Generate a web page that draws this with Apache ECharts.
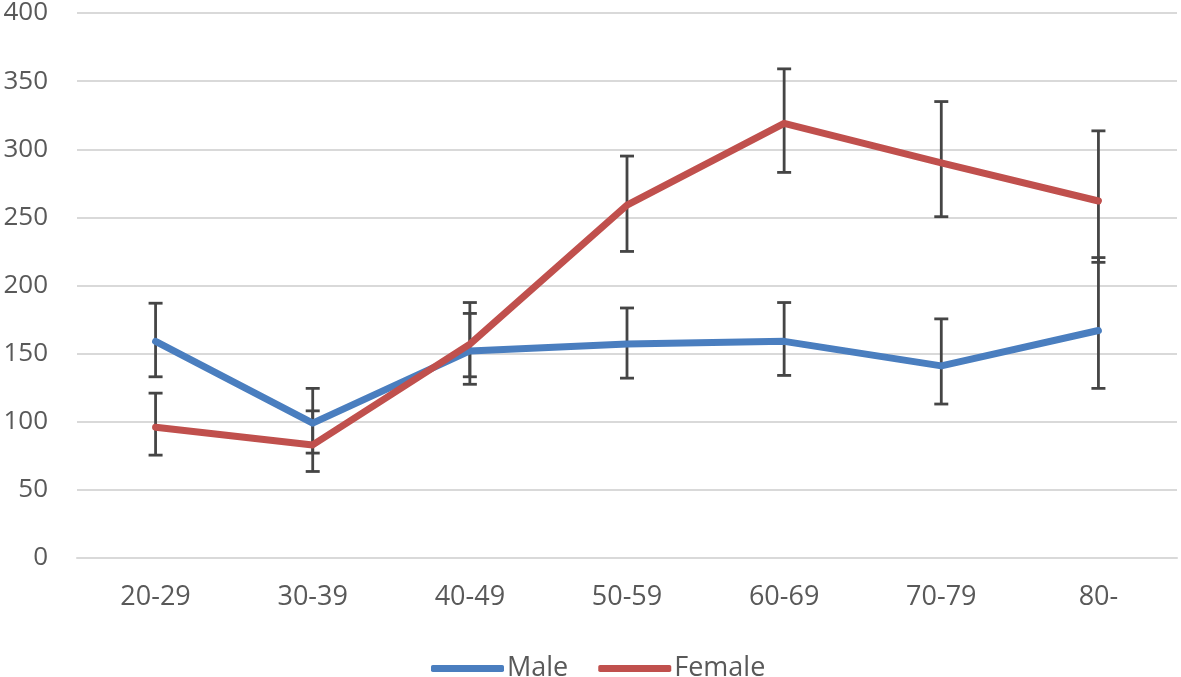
<!DOCTYPE html>
<html>
<head>
<meta charset="utf-8">
<script src="https://cdn.jsdelivr.net/npm/echarts@6/dist/echarts.min.js"></script>
<style>
html,body{margin:0;padding:0;background:#fff;}
#c{width:1181px;height:677px;}
</style>
</head>
<body>
<div id="c"></div>
<script>
var categories = ['20-29', '30-39', '40-49', '50-59', '60-69', '70-79', '80-'];
var maleValues = [159, 99, 152, 157, 159, 141, 167];
var maleLow = [133, 77, 127.5, 132, 134, 113, 124.5];
var maleHigh = [187, 124.5, 179.5, 183.5, 187.5, 175.5, 220.5];
var femaleValues = [96, 83, 157, 259, 319, 290, 262];
var femaleLow = [75.5, 63.5, 133, 225, 283, 250.5, 217];
var femaleHigh = [121, 108, 187.5, 295, 359, 335, 313.5];
var yTicks = [0, 50, 100, 150, 200, 250, 300, 350, 400];

var FONT = 'Open Sans';
var chart = echarts.init(document.getElementById('c'), null, {renderer: 'canvas'});

function errData(low, high) {
  return categories.map(function (c, i) { return [i, low[i], high[i]]; });
}
function renderErr(params, api) {
  var x = api.value(0);
  var lo = api.coord([x, api.value(1)]);
  var hi = api.coord([x, api.value(2)]);
  var hw = 7;
  var style = {stroke: '#454545', lineWidth: 2.8, fill: null};
  return {
    type: 'group',
    children: [
      {type: 'line', shape: {x1: lo[0], y1: lo[1], x2: hi[0], y2: hi[1]}, style: style},
      {type: 'line', shape: {x1: hi[0] - hw, y1: hi[1], x2: hi[0] + hw, y2: hi[1]}, style: style},
      {type: 'line', shape: {x1: lo[0] - hw, y1: lo[1], x2: lo[0] + hw, y2: lo[1]}, style: style}
    ]
  };
}

chart.setOption({
  animation: false,
  backgroundColor: '#ffffff',
  textStyle: {fontFamily: FONT},
  grid: {left: 77, right: 4, top: 13, bottom: 119, containLabel: false},
  legend: {
    left: 426,
    top: 650,
    itemWidth: 73,
    itemHeight: 7,
    itemGap: 30,
    icon: 'roundRect',
    textStyle: {fontFamily: FONT, fontSize: 27, color: '#595959', padding: [0, 0, 0, -2]},
    data: ['Male', 'Female']
  },
  xAxis: {
    type: 'category',
    data: categories,
    boundaryGap: true,
    axisLine: {show: true, lineStyle: {color: '#d9d9d9', width: 2}},
    axisTick: {show: false},
    axisLabel: {fontFamily: FONT, fontSize: 27, color: '#595959', margin: 26}
  },
  yAxis: {
    type: 'value',
    min: yTicks[0],
    max: yTicks[yTicks.length - 1],
    interval: 50,
    axisLine: {show: false},
    axisTick: {show: false},
    axisLabel: {fontFamily: FONT, fontSize: 26, color: '#595959', margin: 29},
    splitLine: {lineStyle: {color: '#d9d9d9', width: 2}}
  },
  series: [
    {
      name: 'MaleErr', type: 'custom', renderItem: renderErr, data: errData(maleLow, maleHigh),
      z: 1, silent: true, encode: {x: 0, y: [1, 2]}
    },
    {
      name: 'FemaleErr', type: 'custom', renderItem: renderErr, data: errData(femaleLow, femaleHigh),
      z: 1, silent: true, encode: {x: 0, y: [1, 2]}
    },
    {
      name: 'Male', type: 'line', data: maleValues, showSymbol: false, symbol: 'none',
      lineStyle: {color: '#4a7ebf', width: 7, cap: 'round', join: 'round'},
      itemStyle: {color: '#4a7ebf'}, z: 3
    },
    {
      name: 'Female', type: 'line', data: femaleValues, showSymbol: false, symbol: 'none',
      lineStyle: {color: '#c0504d', width: 7, cap: 'round', join: 'round'},
      itemStyle: {color: '#c0504d'}, z: 4
    }
  ]
});
</script>
</body>
</html>
